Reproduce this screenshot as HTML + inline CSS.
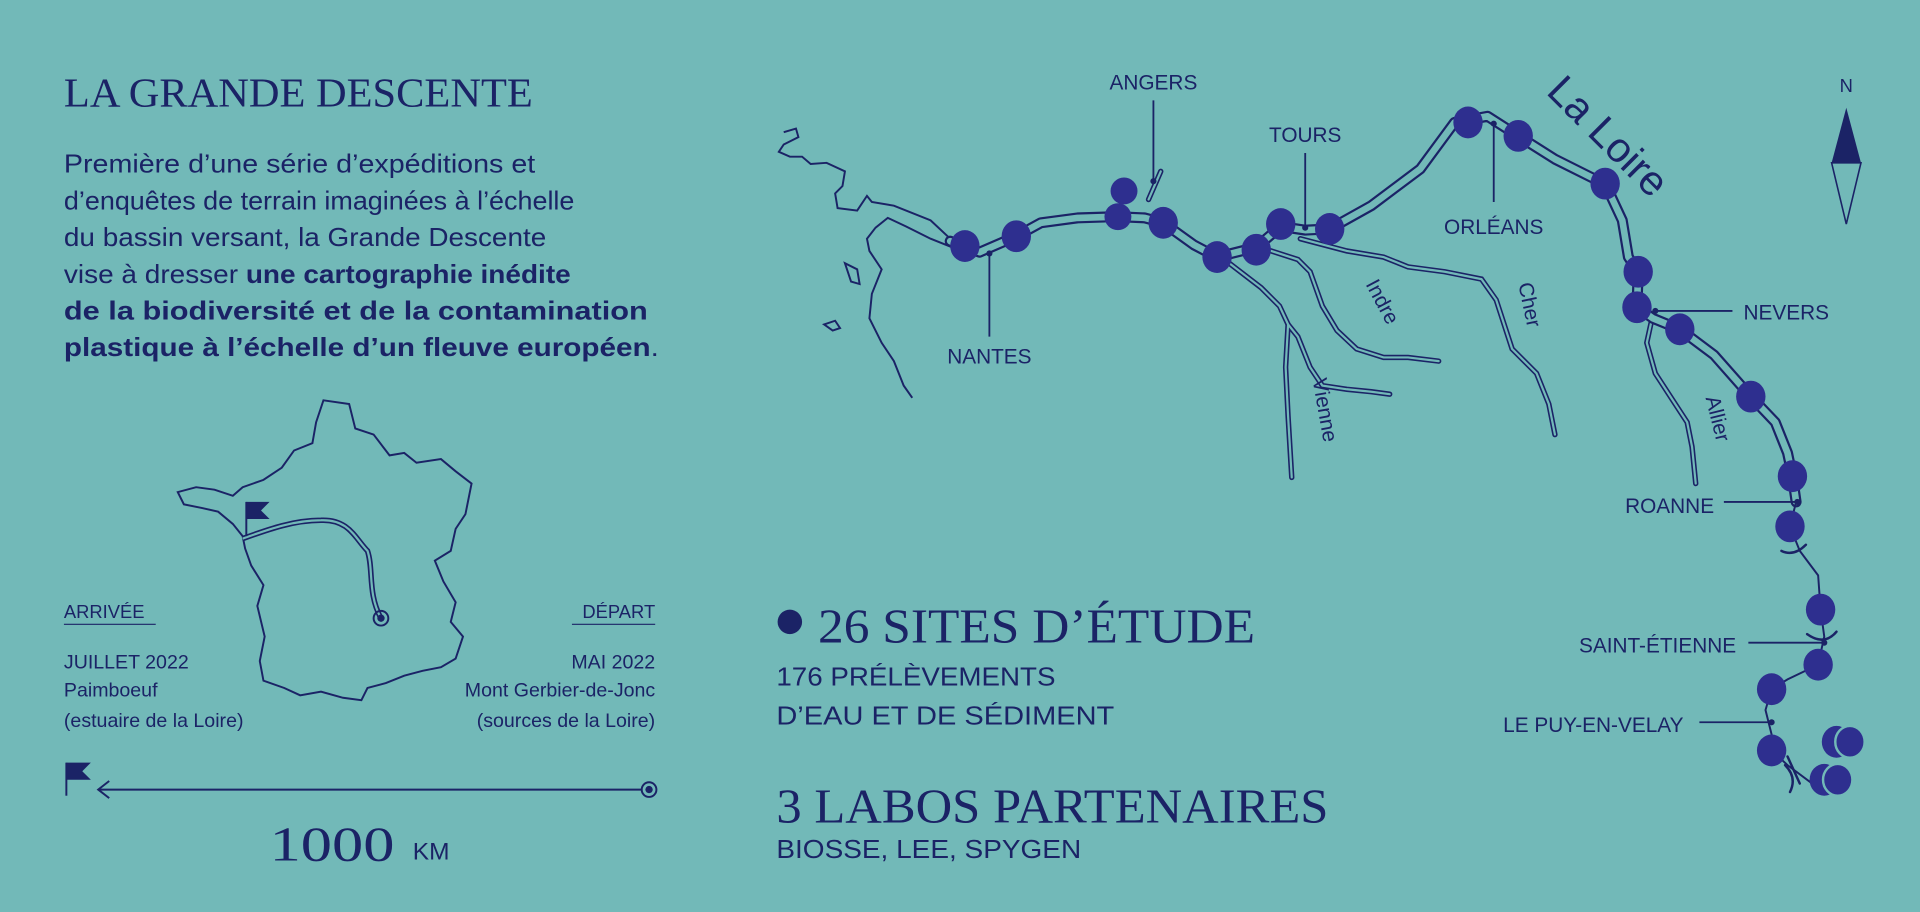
<!DOCTYPE html>
<html><head><meta charset="utf-8"><style>
html,body{margin:0;padding:0;background:#72b9b8;}
svg{display:block;}
text{font-family:"Liberation Sans",sans-serif;fill:#1b2366;}
</style></head><body>
<svg width="1920" height="912" viewBox="0 0 1568 745" xmlns="http://www.w3.org/2000/svg">
<rect width="1568" height="745" fill="#72b9b8"/>
<text x="52" y="87" font-size="34" textLength="383" lengthAdjust="spacingAndGlyphs" style="font-family:'Liberation Serif',serif">LA GRANDE DESCENTE</text>
<g font-size="21">
<text x="52" y="141" textLength="385" lengthAdjust="spacingAndGlyphs">Première d’une série d’expéditions et</text>
<text x="52" y="171" textLength="417" lengthAdjust="spacingAndGlyphs">d’enquêtes de terrain imaginées à l’échelle</text>
<text x="52" y="201" textLength="394" lengthAdjust="spacingAndGlyphs">du bassin versant, la Grande Descente</text>
<text x="52" y="231" textLength="414" lengthAdjust="spacingAndGlyphs">vise à dresser <tspan font-weight="bold">une cartographie inédite</tspan></text>
<text x="52" y="261" textLength="477" lengthAdjust="spacingAndGlyphs" font-weight="bold">de la biodiversité et de la contamination</text>
<text x="52" y="291" textLength="486" lengthAdjust="spacingAndGlyphs"><tspan font-weight="bold">plastique à l’échelle d’un fleuve européen</tspan>.</text>
</g>
<g fill="none" stroke="#1b2366" stroke-width="1.6">
<path d="M264,327 L285,330 L290,350 L305,355 L318,372 L330,370 L340,378 L360,375 L372,385 L385,395 L380,420 L372,432 L368,450 L355,458 L362,475 L372,492 L368,508 L378,520 L372,538 L360,545 L345,548 L330,552 L315,558 L300,562 L295,572 L280,570 L262,565 L245,568 L232,562 L215,556 L212,540 L216,520 L210,495 L215,478 L205,462 L200,448 L198,438 L190,428 L178,418 L165,415 L150,412 L145,402 L160,398 L175,400 L190,405 L198,398 L215,392 L230,382 L240,368 L255,362 L258,345 Z"/>
<path d="M198,440 C220,432 240,425 262,425 C285,424 290,440 300,450 C305,465 300,485 311,505" stroke-width="4.5"/>
<path d="M198,440 C220,432 240,425 262,425 C285,424 290,440 300,450 C305,465 300,485 311,505" stroke="#72b9b8" stroke-width="1.8"/>
<line x1="201" y1="410" x2="201" y2="438"/>
</g>
<path d="M201,410 L220,410 L213,417 L220,424 L201,424 Z" fill="#1b2366"/>
<circle cx="311" cy="505" r="6" fill="none" stroke="#1b2366" stroke-width="1.6"/><circle cx="311" cy="505" r="3" fill="#1b2366"/>
<g font-size="15">
<text x="52" y="505">ARRIVÉE</text><line x1="52" y1="510" x2="127" y2="510" stroke="#1b2366"/>
<text x="535" y="505" text-anchor="end">DÉPART</text><line x1="467" y1="510" x2="535" y2="510" stroke="#1b2366"/>
</g>
<g font-size="16">
<text x="52" y="546">JUILLET 2022</text>
<text x="52" y="569">Paimboeuf</text>
<text x="52" y="594">(estuaire de la Loire)</text>
<text x="535" y="546" text-anchor="end">MAI 2022</text>
<text x="535" y="569" text-anchor="end">Mont Gerbier-de-Jonc</text>
<text x="535" y="594" text-anchor="end">(sources de la Loire)</text>
</g>
<g stroke="#1b2366" stroke-width="1.6" fill="none">
<line x1="54" y1="623" x2="54" y2="650"/>
<line x1="80" y1="645" x2="524" y2="645"/>
<path d="M89,638 L80,645 L89,652"/>
<circle cx="530" cy="645" r="6"/>
</g>
<path d="M54,623 L74,623 L67,630 L74,637 L54,637 Z" fill="#1b2366"/>
<circle cx="530" cy="645" r="3" fill="#1b2366"/>
<text x="220" y="703" font-size="40" textLength="102" lengthAdjust="spacingAndGlyphs" style="font-family:'Liberation Serif',serif">1000</text>
<text x="337" y="702" font-size="20">KM</text>
<circle cx="645" cy="508" r="10" fill="#1b2366"/>
<text x="668" y="525" font-size="40" textLength="357" lengthAdjust="spacingAndGlyphs" style="font-family:'Liberation Serif',serif">26 SITES D’ÉTUDE</text>
<text x="634" y="560" font-size="21" textLength="228" lengthAdjust="spacingAndGlyphs">176 PRÉLÈVEMENTS</text>
<text x="634" y="592" font-size="21" textLength="276" lengthAdjust="spacingAndGlyphs">D’EAU ET DE SÉDIMENT</text>
<text x="634" y="672" font-size="40" textLength="451" lengthAdjust="spacingAndGlyphs" style="font-family:'Liberation Serif',serif">3 LABOS PARTENAIRES</text>
<text x="634" y="701" font-size="21" textLength="249" lengthAdjust="spacingAndGlyphs">BIOSSE, LEE, SPYGEN</text>
<g fill="none" stroke="#1b2366" stroke-width="1.6">
<path d="M640,108 L650,105 L652,112 L640,118 L636,124 L645,128 L655,128 L662,134 L675,133 L690,140 L688,152 L682,158 L684,170 L700,172 L708,160 L712,165 L730,168 L760,180 L776,195"/>
<path d="M785,205 L760,195 L740,185 L725,178 L715,186 L708,195 L710,205 L720,220 L712,240 L710,260 L720,280 L730,295 L738,315 L745,325"/>
<path d="M690,215 L695,230 L702,232 L700,220 Z"/>
<path d="M673,265 L680,270 L686,268 L682,262 Z"/>
</g>
<g fill="none" stroke-linecap="round">
<g stroke="#1b2366" stroke-width="4.4">
<path d="M1000,212 L1030,235 L1045,250 L1052,265 L1060,275 L1070,300 L1080,315 L1100,318 L1120,320 L1135,322"/>
<path d="M1052,265 L1050,300 L1052,340 L1055,390"/>
<path d="M1032,203 L1060,212 L1070,222 L1080,250 L1092,270 L1108,285 L1130,292 L1150,292 L1175,295"/>
<path d="M1062,195 L1100,205 L1130,210 L1150,218 L1180,222 L1210,228 L1222,245 L1235,285 L1255,305 L1265,330 L1270,355"/>
<path d="M1350,257 L1345,280 L1352,305 L1365,325 L1378,345 L1382,365 L1385,395"/>
<path d="M938,163 L948,140"/>
</g>
<g stroke="#72b9b8" stroke-width="1.8">
<path d="M1000,212 L1030,235 L1045,250 L1052,265 L1060,275 L1070,300 L1080,315 L1100,318 L1120,320 L1135,322"/>
<path d="M1052,265 L1050,300 L1052,340 L1055,390"/>
<path d="M1032,203 L1060,212 L1070,222 L1080,250 L1092,270 L1108,285 L1130,292 L1150,292 L1175,295"/>
<path d="M1062,195 L1100,205 L1130,210 L1150,218 L1180,222 L1210,228 L1222,245 L1235,285 L1255,305 L1265,330 L1270,355"/>
<path d="M1350,257 L1345,280 L1352,305 L1365,325 L1378,345 L1382,365 L1385,395"/>
<path d="M938,163 L948,140"/>
</g>
<path d="M776,197 L800,206 L830,193 L850,182 L880,178 L912,177 L935,178 L950,182 L975,200 L994,210 L1026,202 L1046,185 L1066,188 L1086,187 L1120,168 L1160,138 L1188,100 L1215,95 L1240,111 L1270,130 L1300,145 L1311,150 L1325,180 L1330,210 L1338,222 L1337,251 L1350,260 L1372,269 L1400,290 L1430,324 L1450,345 L1460,370 L1464,389 L1467,410" stroke="#1b2366" stroke-width="9" stroke-linejoin="round"/>
<path d="M776,197 L800,206 L830,193 L850,182 L880,178 L912,177 L935,178 L950,182 L975,200 L994,210 L1026,202 L1046,185 L1066,188 L1086,187 L1120,168 L1160,138 L1188,100 L1215,95 L1240,111 L1270,130 L1300,145 L1311,150 L1325,180 L1330,210 L1338,222 L1337,251 L1350,260 L1372,269 L1400,290 L1430,324 L1450,345 L1460,370 L1464,389 L1467,410" stroke="#72b9b8" stroke-width="5.4" stroke-linejoin="round"/>
<path d="M1467,410 L1462,430 L1470,450 L1485,470 L1487,498 L1490,520 L1485,543 L1460,555 L1447,563 L1442,580 L1447,600 L1447,613 L1460,625 L1480,640" stroke="#1b2366" stroke-width="1.6"/>
<path d="M1455,450 Q1465,455 1475,445 M1476,518 Q1490,528 1500,516 M1458,625 Q1468,635 1462,647 M1470,640 L1460,618" stroke="#1b2366" stroke-width="2"/>
</g>
<g fill="#2e2f8f">
<ellipse cx="788" cy="201" rx="12" ry="13"/><ellipse cx="830" cy="193" rx="12" ry="13"/>
<ellipse cx="918" cy="156" rx="11" ry="11"/><ellipse cx="913" cy="177" rx="11" ry="11"/>
<ellipse cx="950" cy="182" rx="12" ry="13"/><ellipse cx="994" cy="210" rx="12" ry="13"/>
<ellipse cx="1026" cy="204" rx="12" ry="13"/><ellipse cx="1046" cy="183" rx="12" ry="13"/>
<ellipse cx="1086" cy="187" rx="12" ry="13"/><ellipse cx="1199" cy="100" rx="12" ry="13"/>
<ellipse cx="1240" cy="111" rx="12" ry="13"/><ellipse cx="1311" cy="150" rx="12" ry="13"/>
<ellipse cx="1338" cy="222" rx="12" ry="13"/><ellipse cx="1337" cy="251" rx="12" ry="13"/>
<ellipse cx="1372" cy="269" rx="12" ry="13"/><ellipse cx="1430" cy="324" rx="12" ry="13"/>
<ellipse cx="1464" cy="389" rx="12" ry="13"/><ellipse cx="1462" cy="430" rx="12" ry="13"/>
<ellipse cx="1487" cy="498" rx="12" ry="13"/><ellipse cx="1485" cy="543" rx="12" ry="13"/>
<ellipse cx="1447" cy="563" rx="12" ry="13"/><ellipse cx="1447" cy="613" rx="12" ry="13"/>
<ellipse cx="1500" cy="606" rx="12" ry="13"/><ellipse cx="1511" cy="606" rx="12" ry="13" stroke="#72b9b8" stroke-width="2"/>
<ellipse cx="1490" cy="637" rx="12" ry="13"/><ellipse cx="1501" cy="637" rx="12" ry="13" stroke="#72b9b8" stroke-width="2"/>
</g>
<g stroke="#1b2366" stroke-width="1.5">
<line x1="942" y1="82" x2="942" y2="148"/><line x1="808" y1="208" x2="808" y2="275"/>
<line x1="1066" y1="125" x2="1066" y2="185"/><line x1="1220" y1="100" x2="1220" y2="165"/>
<line x1="1352" y1="254" x2="1415" y2="254"/><line x1="1408" y1="410" x2="1468" y2="410"/>
<line x1="1428" y1="525" x2="1490" y2="525"/><line x1="1388" y1="590" x2="1447" y2="590"/>
</g>
<g fill="#1b2366">
<circle cx="942" cy="148" r="2.5"/><circle cx="808" cy="207" r="2.5"/><circle cx="1066" cy="186" r="2.5"/>
<circle cx="1220" cy="101" r="2.5"/><circle cx="1352" cy="254" r="2.5"/><circle cx="1468" cy="410" r="2.5"/>
<circle cx="1490" cy="525" r="2.5"/><circle cx="1447" cy="590" r="2.5"/>
</g>
<g font-size="17">
<text x="942" y="73" text-anchor="middle">ANGERS</text>
<text x="808" y="297" text-anchor="middle">NANTES</text>
<text x="1066" y="116" text-anchor="middle">TOURS</text>
<text x="1220" y="191" text-anchor="middle">ORLÉANS</text>
<text x="1424" y="261">NEVERS</text>
<text x="1400" y="419" text-anchor="end">ROANNE</text>
<text x="1418" y="533" text-anchor="end">SAINT-ÉTIENNE</text>
<text x="1375" y="598" text-anchor="end">LE PUY-EN-VELAY</text>
</g>
<g style="font-family:'Liberation Serif',serif">
<text transform="translate(1262,76) rotate(45)" font-size="34">La Loire</text>
<text transform="translate(1115,232) rotate(62)" font-size="17">Indre</text>
<text transform="translate(1240,232) rotate(78)" font-size="17">Cher</text>
<text transform="translate(1072,310) rotate(80)" font-size="17">Vienne</text>
<text transform="translate(1393,325) rotate(76)" font-size="17">Allier</text>
</g>
<text x="1508" y="75" text-anchor="middle" font-size="15">N</text>
<path d="M1508,88 L1520,133 L1496,133 Z" fill="#1b2366"/>
<path d="M1496,133 L1520,133 L1508,183 Z" fill="none" stroke="#1b2366" stroke-width="1.3"/>
</svg>
</body></html>
